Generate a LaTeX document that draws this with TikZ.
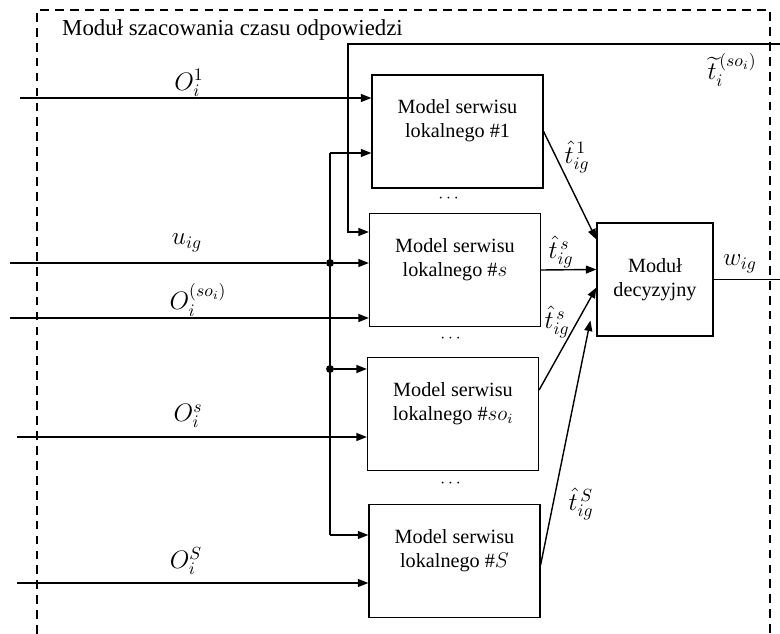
\documentclass[tikz,border=0pt]{standalone}
\usepackage{fontspec}
\setmainfont{Liberation Serif}
\usepackage{amsmath}
\usetikzlibrary{positioning,calc,arrows.meta}

\tikzset{
  frame/.style={line width=1.3pt, dash pattern=on 5pt off 3.5pt},
  wire/.style={line width=0.8pt},
  arr/.style={wire, -{Triangle[length=6pt,width=4.5pt]}},
  serwis/.style={draw, line width=0.7pt, minimum width=3.42cm, minimum height=2.26cm},
  boxtext/.style={align=center, font=\fontsize{11.5}{13.5}\selectfont},
  sig/.style={font=\Large, inner sep=0.5pt},
  dot/.style={circle, fill, inner sep=0pt, minimum size=4.5pt}
}

\begin{document}
\begin{tikzpicture}[x=0.02cm,y=-0.02cm]
  \useasboundingbox (0,0) rectangle (780,634);

  % ramka modulu
  \draw[frame] (37,634) -- (37,10) -- (770,10) -- (770,634);
  \node[anchor=west, font=\fontsize{13}{15}\selectfont] (title) at (56,30) {Moduł szacowania czasu odpowiedzi};

  % modele serwisow lokalnych
  \node[serwis, label={[boxtext,yshift=6pt]center:Model serwisu\\lokalnego \#1}] (box1) at (457.5,131.5) {};
  \node[serwis, label={[boxtext,yshift=6pt]center:Model serwisu\\lokalnego \#$s$}] (boxs) at (455,270) {};
  \node[serwis, label={[boxtext,yshift=6pt]center:Model serwisu\\lokalnego \#$so_i$}] (boxso) at (453,414) {};
  \node[serwis, label={[boxtext,yshift=6pt]center:Model serwisu\\lokalnego \#$S$}] (boxS) at (454.5,561) {};

  \node (dots1) at (450,199) {$\cdots$};
  \node (dots2) at (452,339) {$\cdots$};
  \node (dots3) at (452,484) {$\cdots$};

  % modul decyzyjny
  \node[draw, line width=0.7pt, minimum width=2.32cm, minimum height=2.26cm, boxtext] (dec) at (655,279.5) {Moduł\\decyzyjny};

  % wejscia
  \coordinate (inO1) at (20,98);
  \coordinate (inU) at (10,263);
  \coordinate (inOso) at (10,318);
  \coordinate (inOs) at (17,437);
  \coordinate (inOS) at (17,583);
  \draw[arr] (inO1) -- (inO1 -| box1.west);
  \draw[arr] (inOso) -- (inOso -| boxs.west);
  \draw[arr] (inOs) -- (inOs -| boxso.west);
  \draw[arr] (inOS) -- (inOS -| boxS.west);

  \node[sig] (lO1) at (189,83) {$O_i^1$};
  \node[sig] (lU) at (187,243) {$u_{ig}$};
  \node[sig] (lOso) at (198,300) {$O_i^{(so_i)}$};
  \node[sig] (lOs) at (188,416) {$O_i^s$};
  \node[sig] (lOS) at (186,561) {$O_i^S$};

  % szyna u_ig
  \coordinate (busT) at (330,153);
  \coordinate (busB) at (330,535);
  \node[dot] (j1) at (330,263) {};
  \node[dot] (j2) at (330,369) {};
  \draw[wire] (inU) -- (j1);
  \draw[wire] (busT) -- (busB);
  \draw[arr] (busT) -- (busT -| box1.west);
  \draw[arr] (j1) -- (j1 -| boxs.west);
  \draw[arr] (j2) -- (j2 -| boxso.west);
  \draw[arr] (busB) -- (busB -| boxS.west);

  % sprzezenie t~
  \coordinate (fbR) at (780,44);
  \coordinate (fbC) at (348,232);
  \draw[arr] (fbR) -| (fbC) -- (fbC -| boxs.west);
  \node[sig] (lfb) at (732,70) {$\widetilde{t}_i^{\,(so_i)}$};

  % wyjscia modeli
  \draw[arr] (box1.east) -- ($(dec.west)+(0,-40)$);
  \draw[arr] (boxs.east) -- ($(dec.west)+(0,-10)$);
  \draw[arr] ($(boxso.east)+(0,-24)$) -- ($(dec.west)+(0,8)$);
  \draw[arr] ($(boxS.east)+(0,4)$) -- ($(dec.west)+(-6,41)$);
  \node[sig] (lt1) at (577,157) {$\hat{t}_{ig}^{\,1}$};
  \node[sig] (lts) at (561,252) {$\hat{t}_{ig}^{\,s}$};
  \node[sig] (ltso) at (557,322) {$\hat{t}_{ig}^{\,s}$};
  \node[sig] (ltS) at (581,504) {$\hat{t}_{ig}^{\,S}$};

  % wyjscie
  \coordinate (outR) at (780,280);
  \draw[wire] (dec.east) -- (dec.east -| outR);
  \node[sig] (lw) at (740,264) {$w_{ig}$};
\end{tikzpicture}
\end{document}
